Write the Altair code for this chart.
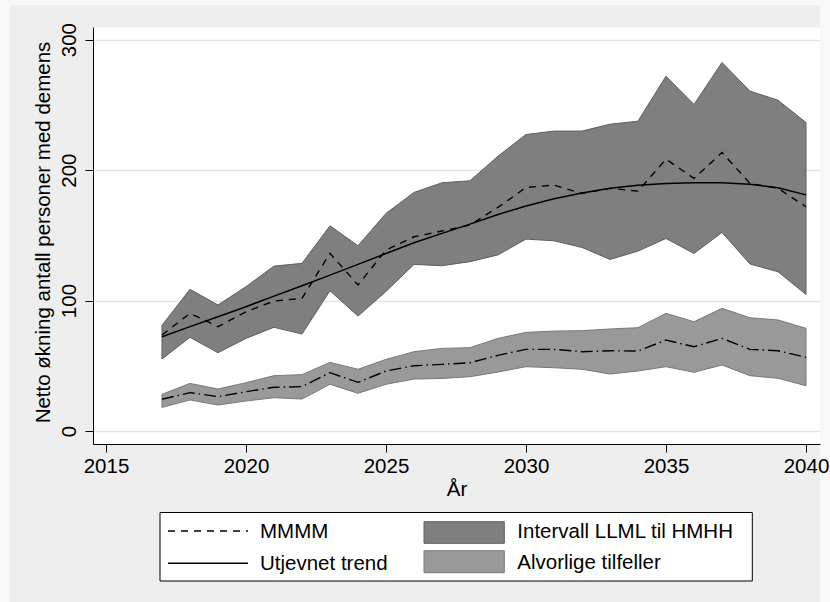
import altair as alt
import pandas as pd

# Projected net increase in persons with dementia, 2017-2040
years = list(range(2017, 2041))

# Main projection (MMMM alternative)
mmmm = [73.6, 90.2, 80.0, 91.4, 99.6, 101.7, 136.2, 111.9, 138.7, 148.9, 153.3, 157.9,
        171.4, 186.7, 188.5, 182.1, 186.0, 183.9, 208.4, 193.6, 213.5, 189.8, 186.0, 171.9]

# Smoothed trend through the main projection
trend = [72.3, 80.0, 87.6, 95.3, 103.4, 111.4, 119.5, 127.7, 136.1, 144.3, 151.5, 158.6,
         166.0, 172.5, 178.0, 182.5, 186.0, 188.3, 189.7, 190.3, 190.3, 189.2, 186.5, 181.0]

# Interval between the LLML and HMHH alternatives
band_low = [55.2, 71.8, 60.0, 71.0, 79.5, 74.3, 107.5, 88.1, 107.0, 127.7, 126.7, 129.8,
            135.0, 147.1, 145.8, 140.7, 131.5, 137.9, 147.6, 136.1, 152.2, 128.0, 122.1, 104.7]
band_high = [81.0, 108.6, 96.6, 110.6, 126.4, 128.5, 157.3, 142.0, 166.8, 182.9, 190.3, 191.8,
             210.7, 227.3, 229.9, 229.9, 235.2, 237.5, 272.0, 250.3, 282.5, 260.5, 253.6, 236.5]

# Severe cases: central estimate and interval
severe_mid = [24.3, 29.4, 26.3, 30.1, 33.5, 34.0, 44.7, 37.3, 46.0, 50.0, 51.1, 52.3,
              58.0, 62.6, 62.6, 60.8, 61.5, 61.3, 69.7, 64.6, 71.0, 62.6, 61.5, 56.5]
severe_low = [18.1, 23.8, 19.9, 23.0, 25.5, 24.5, 35.8, 28.9, 35.8, 39.8, 40.3, 41.6,
              45.2, 49.3, 48.5, 47.3, 43.7, 46.0, 49.3, 45.0, 50.6, 42.4, 40.4, 34.7]
severe_high = [28.1, 36.5, 32.2, 37.0, 42.4, 43.2, 52.6, 47.3, 54.9, 60.8, 63.3, 63.9,
               71.0, 75.6, 76.6, 76.9, 78.2, 79.2, 90.2, 83.8, 94.0, 86.8, 85.1, 78.7]

x_ticks = [2015, 2020, 2025, 2030, 2035, 2040]
y_ticks = [0, 100, 200, 300]

x_title = "År"
y_title = "Netto økning antall personer med demens"
legend_labels = ["MMMM", "Utjevnet trend", "Intervall LLML til HMHH", "Alvorlige tilfeller"]

df = pd.DataFrame({
    "year": years,
    "mmmm": mmmm,
    "trend": trend,
    "band_low": band_low,
    "band_high": band_high,
    "severe_mid": severe_mid,
    "severe_low": severe_low,
    "severe_high": severe_high,
})

FONT = "Liberation Sans"
FS = 20.5
W, H = 727, 417

DARK_FILL, DARK_EDGE = "#7F7F7F", "#5E5E5E"
LIGHT_FILL, LIGHT_EDGE = "#999999", "#787878"

x_scale = alt.Scale(domain=[2014.536, 2040.5], nice=False, zero=False)
y_scale = alt.Scale(domain=[-9.97, 309.7], nice=False, zero=False)

# x axis sits above the marks so its labels are never covered
x_axis = alt.Axis(
    values=x_ticks, format="d", title=x_title, grid=False, zindex=1,
    domainColor="black", domainWidth=1, tickColor="black", tickSize=8, tickWidth=1,
    labelFont=FONT, labelFontSize=FS, labelColor="black", labelPadding=4,
    labelBaseline="top", labelFlush=False, labelOverlap=False,
    titleFont=FONT, titleFontSize=FS, titleFontWeight="normal", titleColor="black",
    titleBaseline="alphabetic", titleY=51,
)
y_axis = alt.Axis(
    values=y_ticks, format="d", title=y_title, grid=True,
    gridColor="#E4E4E4", gridWidth=1.5,
    domainColor="black", domainWidth=1, tickColor="black", tickSize=8, tickWidth=1,
    labelFont=FONT, labelFontSize=FS, labelColor="black", labelAngle=270,
    labelAlign="center", labelBaseline="alphabetic", labelPadding=9.5,
    labelFlush=False, labelOverlap=False,
    titleFont=FONT, titleFontSize=FS, titleFontWeight="normal", titleColor="black",
    titleAngle=270, titleAlign="center", titleBaseline="alphabetic",
    titleX=-43.5, titleY=205,
)


def xe():
    return alt.X("year:Q", scale=x_scale, axis=x_axis)


def ye(field):
    return alt.Y(f"{field}:Q", scale=y_scale, axis=y_axis)


base = alt.Chart(df)

band = base.mark_area(fill=DARK_FILL, stroke=DARK_EDGE, strokeWidth=1, opacity=1).encode(
    x=xe(), y=ye("band_high"), y2="band_low:Q")
severe_band = base.mark_area(fill=LIGHT_FILL, stroke=LIGHT_EDGE, strokeWidth=1, opacity=1).encode(
    x=xe(), y=ye("severe_high"), y2="severe_low:Q")
severe_line = base.mark_line(color="black", strokeWidth=1.4, strokeDash=[12, 4, 1.5, 4]).encode(
    x=xe(), y=ye("severe_mid"))
main_line = base.mark_line(color="black", strokeWidth=1.4, strokeDash=[7, 6]).encode(
    x=xe(), y=ye("mmmm"))
trend_line = base.mark_line(color="black", strokeWidth=1.5).encode(
    x=xe(), y=ye("trend"))

# Legend panel below the plot
one = alt.Chart(pd.DataFrame({"k": [0]}))


def box(x0, x1, y0, y1, fill, stroke=None, sw=1):
    kw = dict(fill=fill, strokeWidth=sw if stroke else 0)
    if stroke:
        kw["stroke"] = stroke
    return one.mark_rect(**kw).encode(
        x=alt.value(x0), x2=alt.value(x1), y=alt.value(y0), y2=alt.value(y1))


def seg(x0, x1, yy, dash=None, sw=1.4):
    kw = dict(color="black", strokeWidth=sw)
    if dash:
        kw["strokeDash"] = dash
    return one.mark_rule(**kw).encode(
        x=alt.value(x0), x2=alt.value(x1), y=alt.value(yy), y2=alt.value(yy))


def label(xx, yy, txt):
    return one.mark_text(font=FONT, fontSize=FS, color="black", align="left",
                         baseline="alphabetic").encode(
        x=alt.value(xx), y=alt.value(yy), text=alt.value(txt))


# page frame: lighter outer strips around the grey chart region
frame = [
    box(-93, -83, -27, 575, "#F8F8F8"),
    box(-93, 737, -27, -22, "#F8F8F8"),
    box(727, 737, -27, 575, "#F8F8F8"),
]

legend = [
    box(67, 659.3, 485.5, 554, "white", "black", 1),
    seg(75, 155, 504, [7, 6]),
    seg(75, 155, 536.3),
    box(331, 411.3, 494.7, 516.3, DARK_FILL, DARK_EDGE, 1),
    box(331, 411.3, 523.7, 545.7, LIGHT_FILL, LIGHT_EDGE, 1),
    label(167, 511, legend_labels[0]),
    label(167, 543, legend_labels[1]),
    label(424.3, 511, legend_labels[2]),
    label(424.3, 542, legend_labels[3]),
]

chart = alt.layer(
    band, severe_band, severe_line, main_line, trend_line, *frame, *legend
).properties(
    width=W, height=H,
    autosize=alt.AutoSizeParams(type="none"),
    padding={"left": 93, "top": 27, "right": 10, "bottom": 158},
    background="#EEEEEE",
).configure_view(
    fill="white", stroke="transparent"
)

chart.save("out.html", embed_options={"renderer": "svg", "actions": False})
